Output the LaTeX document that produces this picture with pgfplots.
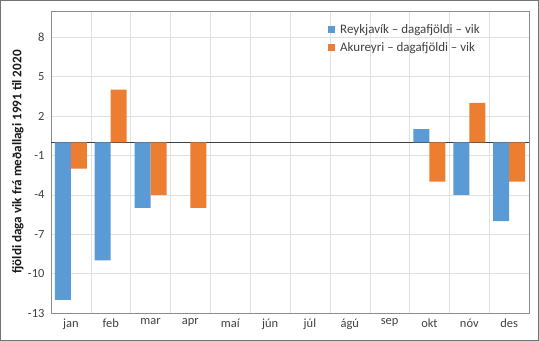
\documentclass[border=0pt]{standalone}
\usepackage{pgfplots}
\pgfplotsset{compat=1.18}
\usepackage{fontspec}
\setmainfont{Carlito}
\definecolor{rvk}{HTML}{5B9BD5}
\definecolor{aku}{HTML}{ED7D31}
\definecolor{txt}{HTML}{404040}
\begin{document}
\begin{tikzpicture}
\begin{axis}[
  at={(0,0)}, anchor=south west,
  scale only axis, width=478bp, height=302bp,
  xmin=-0.5, xmax=11.5, ymin=-13, ymax=10,
  ytick={-13,-10,-7,-4,-1,2,5,8},
  xtick={0,...,11},
  xticklabels={jan,feb,mar,apr,maí,jún,júl,ágú,sep,okt,nóv,des},
  minor xtick={0.5,1.5,...,10.5},
  xminorgrids, ymajorgrids,
  major grid style={draw=black!12},
  minor grid style={draw=black!12},
  major tick length=0pt, minor tick length=0pt,
  axis line style={draw=black!45},
  ticklabel style={font=\fontsize{12.5}{14}\selectfont, text=txt},
  /pgf/number format/assume math mode=true,
  xticklabel style={yshift=-2bp},
  yticklabel style={xshift=-3bp},
  ylabel={fjöldi daga vik frá meðallagi 1991 til 2020},
  ylabel style={font=\bfseries\fontsize{13.2}{15}\selectfont, text=black!90, at={([xshift=-33bp]axis description cs:0,0.5)}, anchor=center, rotate=0},
  ybar=0pt, bar width=16bp,
  extra y ticks={0}, extra y tick labels={},
  extra y tick style={grid=major, major grid style={draw=black!75, line width=0.6pt}},
  legend style={at={(0.572,0.97)}, anchor=north west, draw=none, fill=none,
    font=\fontsize{13}{15}\selectfont, text=txt, row sep=3.5bp,
    /tikz/every odd column/.append style={column sep=3bp}},
  legend cell align=left,
  legend image code/.code={\fill[#1] (0bp,-3.8bp) rectangle (7.6bp,3.8bp);},
  clip=false,
]
\addplot[fill=rvk, draw=none] coordinates {(0,-12) (1,-9) (2,-5) (9,1) (10,-4) (11,-6)};
\addlegendentry{Reykjavík – dagafjöldi – vik}
\addplot[fill=aku, draw=none] coordinates {(0,-2) (1,4) (2,-4) (3,-5) (9,-3) (10,3) (11,-3)};
\addlegendentry{Akureyri – dagafjöldi – vik}
\end{axis}
\draw[black!55, line width=0.8pt] (-50.5bp,-27.5bp) rectangle (487.5bp,312.5bp);
\end{tikzpicture}
\end{document}
